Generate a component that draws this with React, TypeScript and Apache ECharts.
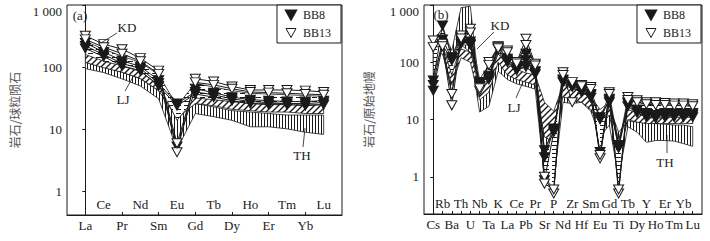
import React, { useEffect, useRef } from 'react';
import * as echarts from 'echarts';

// ---------- categories ----------
const reeElements = ['La', 'Ce', 'Pr', 'Nd', 'Sm', 'Eu', 'Gd', 'Tb', 'Dy', 'Ho', 'Er', 'Tm', 'Yb', 'Lu'];
const spiderElements = ['Cs', 'Rb', 'Ba', 'Th', 'U', 'Nb', 'Ta', 'K', 'La', 'Ce', 'Pb', 'Pr', 'Sr', 'P', 'Nd', 'Zr', 'Hf', 'Sm', 'Eu', 'Gd', 'Ti', 'Tb', 'Dy', 'Y', 'Ho', 'Er', 'Tm', 'Yb', 'Lu'];

// ---------- y tick labels ----------
const yTickValues = [1, 10, 100, 1000];
const yTickLabels = ['1', '10', '100', '1 000'];

// ---------- (a) chondrite-normalized REE ----------
const reeBB8_1 = [220, 160, 115, 95, 55, 26, 40, 36, 31, 28, 27, 26, 26, 27];
const reeBB8_2 = [245, 175, 128, 102, 62, 5.3, 45, 39, 33, 30, 29, 28, 28, 29];
const reeBB8_3 = [200, 148, 105, 88, 50, 24, 37, 33, 29, 26, 25, 25, 24, 25];
const reeBB13_1 = [320, 235, 195, 140, 88, 4.3, 65, 59, 49, 43, 43, 43, 42, 40];
const reeBB13_2 = [280, 210, 165, 125, 78, 6, 57, 52, 45, 40, 39, 38, 37, 36];

const reeTHLow = [95, 82, 65, 50, 31, 4.8, 18, 16, 14, 11, 11, 10.2, 9, 8.3];
const reeTHUp = [120, 100, 83, 65, 42, 17, 26, 23, 20, 19, 18, 17, 17, 17];
const reeLJLow = [119, 98, 83, 66, 42, 15, 26, 24, 21, 20, 19, 19, 18, 18];
const reeLJUp = [163, 130, 112, 88, 54, 28, 33, 31, 28, 27, 27, 27, 27, 27];
const reeKDLow = [160, 125, 105, 85, 52, 14, 32, 30, 28, 26, 26, 26, 25, 25];
const reeKDUp = [260, 195, 150, 120, 75, 24, 55, 48, 42, 38, 37, 36, 35, 34];

// ---------- (b) primitive-mantle-normalized spider ----------
const spBB8_1 = [48, 439, 123, 275, 210, 42, 55, 184, 108, 77, 141, 67, 2.9, 7, 48, 40, 32, 26.5, 11, 21.7, 3.6, 19, 14.5, 12, 11, 12, 12, 12, 12];
const spBB8_2 = [32, 200, 108, 210, 230, 38, 50, 170, 100, 72, 83, 62, 0.87, 6, 45, 37, 30, 24, 2.7, 20, 3.2, 17, 13, 11, 10.5, 11, 11, 11, 11];
const spBB8_3 = [40, 250, 115, 240, 200, 45, 58, 190, 115, 82, 110, 70, 2.2, 6.5, 50, 38, 34, 28, 10, 23, 3.3, 20, 15, 13, 12, 13, 13, 13, 13];
const spBB13_1 = [240, 210, 28, 294, 384, 32, 101, 184, 161, 101, 257, 94, 1.0, 0.51, 67, 45, 40, 37, 2.1, 30, 0.51, 24.8, 21.7, 20, 20, 19.4, 19, 19, 18.5];
const spBB13_2 = [184, 190, 17.7, 260, 330, 35, 90, 175, 150, 95, 200, 88, 0.76, 0.6, 60, 20, 38, 34, 2.4, 28, 0.6, 22, 20, 18.5, 18, 18, 17.5, 17.5, 17];

const spTHLow = [100, 150, 30, 200, 150, 13.5, 17, 70, 50, 42, 38, 34, 1.0, 0.8, 20, 19, 20, 14, 5, 8, 1, 7.5, 6, 4, 4.3, 4.3, 4.2, 3.8, 3.4];
const spTHUp = [250, 380, 160, 900, 950, 30, 60, 160, 80, 70, 62, 55, 5, 4, 45, 38, 36, 25, 12, 17, 6, 9.5, 9, 8.8, 8.5, 8.3, 8, 8, 7.5];
const spLJLow = [150, 140, 40, 120, 100, 22, 30, 100, 60, 50, 45, 40, 5, 4, 25, 22, 20, 15, 7.5, 12, 2.2, 10, 9, 8.5, 8.5, 8.5, 8.5, 8.5, 8.5];
const spLJUp = [200, 190, 80, 170, 150, 40, 55, 140, 90, 75, 65, 60, 20, 14, 40, 35, 32, 25, 15, 20, 4.5, 15, 13, 12, 12, 12, 12, 12, 12];
const spKDLow = [60, 200, 60, 200, 200, 30, 50, 150, 100, 75, 85, 60, 1, 0.6, 45, 35, 30, 25, 2.5, 20, 0.6, 18, 14, 12, 12, 12, 12, 12, 12];
const spKDUp = [220, 400, 130, 300, 350, 50, 90, 190, 150, 100, 200, 90, 3, 6, 65, 45, 40, 35, 10, 28, 3.5, 24, 20, 19, 19, 19, 18, 18, 18];

const SERIF = '"Liberation Serif", "DejaVu Serif", serif';
const CJK = '"Noto Sans CJK SC", sans-serif';
const TRI = 'path://M0,0L10,0L5,9Z';
const INK = '#1a1a1a';

function makePattern(kind: string) {
  const c = document.createElement('canvas');
  let w = 3, h = 3;
  if (kind === 'diag') { w = 6; h = 6; }
  if (kind === 'dash') { w = 8; h = 4; }
  c.width = w; c.height = h;
  const ctx = c.getContext('2d')!;
  ctx.fillStyle = '#fff';
  ctx.fillRect(0, 0, w, h);
  ctx.fillStyle = INK;
  ctx.strokeStyle = INK;
  if (kind === 'vert') {
    ctx.fillRect(0, 0, 1, h);
  } else if (kind === 'diag') {
    ctx.lineWidth = 1.4;
    ctx.beginPath();
    ctx.moveTo(0, h); ctx.lineTo(w, 0);
    ctx.moveTo(-1, 1); ctx.lineTo(1, -1);
    ctx.moveTo(w - 1, h + 1); ctx.lineTo(w + 1, h - 1);
    ctx.stroke();
  } else {
    ctx.fillRect(0, 1, 5, 1);
  }
  return { image: c, repeat: 'repeat', imageWidth: w, imageHeight: h };
}

function fieldSeries(name: string, xi: number, yi: number, lower: number[], upper: number[], pattern: any) {
  return {
    type: 'custom',
    name,
    xAxisIndex: xi,
    yAxisIndex: yi,
    silent: true,
    clip: true,
    data: lower.map((l, i) => [i, l, upper[i]]),
    encode: { x: 0, y: [1, 2] },
    renderItem: (params: any, api: any) => {
      if (params.dataIndex !== 0) return null;
      const pts: number[][] = [];
      for (let i = 0; i < upper.length; i++) pts.push(api.coord([i, upper[i]]));
      for (let i = lower.length - 1; i >= 0; i--) pts.push(api.coord([i, lower[i]]));
      return {
        type: 'polygon',
        shape: { points: pts },
        style: { fill: pattern, stroke: INK, lineWidth: 0.8 },
      };
    },
  };
}

function sampleSeries(name: string, xi: number, yi: number, values: number[]) {
  const open = name === 'BB13';
  return {
    type: 'line',
    name,
    xAxisIndex: xi,
    yAxisIndex: yi,
    data: values.map((v, i) => [i, v]),
    symbol: TRI,
    symbolSize: open ? [10, 9] : [10, 9],
    showAllSymbol: true,
    lineStyle: { color: INK, width: 1 },
    itemStyle: open ? { color: '#fff', borderColor: INK, borderWidth: 1 } : { color: INK, borderColor: INK, borderWidth: 1 },
    z: 3,
  };
}

function yLabel(v: number) {
  const e = Math.log10(v);
  const r = Math.round(e);
  if (Math.abs(e - r) > 1e-6) return '';
  const idx = yTickValues.indexOf(Math.pow(10, r));
  if (idx < 0) return '';
  return idx === yTickValues.length - 1 ? '{top|' + yTickLabels[idx] + '}' : yTickLabels[idx];
}

function xAxes(grid: number, names: string[], tickValues: number[]) {
  const evens = names.map((_, i) => i).filter((i) => i % 2 === 0);
  const odds = names.map((_, i) => i).filter((i) => i % 2 === 1);
  const fmt = (v: number) => names[Math.round(v)] ?? '';
  return [
    {
      type: 'value', gridIndex: grid, position: 'bottom', min: -1, max: names.length,
      splitLine: { show: false },
      axisLine: { show: true, lineStyle: { color: INK, width: 1 } },
      axisTick: { show: true, inside: true, length: 3, customValues: tickValues, lineStyle: { color: INK } },
      axisLabel: { customValues: evens, formatter: fmt, margin: 4, color: INK, fontSize: 13, fontFamily: SERIF },
    },
    {
      type: 'value', gridIndex: grid, position: 'bottom', min: -1, max: names.length,
      splitLine: { show: false },
      axisLine: { show: false },
      axisTick: { show: false },
      axisLabel: { inside: true, customValues: odds, formatter: fmt, margin: 4, color: INK, fontSize: 13, fontFamily: SERIF },
    },
  ];
}

function yAxis(grid: number, min: number, name: string, gap: number) {
  return {
    type: 'log', logBase: 10, gridIndex: grid, min, max: 1000,
    name, nameLocation: 'middle', nameGap: gap, nameRotate: 90,
    nameTextStyle: { color: '#555', fontSize: 12, fontFamily: CJK },
    splitLine: { show: false },
    minorTick: { show: false },
    axisLine: { show: true, lineStyle: { color: INK, width: 1 } },
    axisTick: { show: true, inside: false, length: 3, lineStyle: { color: INK } },
    axisLabel: {
      formatter: yLabel, margin: 5, color: INK, fontSize: 13, fontFamily: SERIF,
      rich: { top: { padding: [13, 0, 0, 0], fontSize: 13, fontFamily: SERIF, color: INK } },
    },
  };
}

function legend(left: number) {
  return {
    left, top: 5, orient: 'vertical',
    data: [
      { name: 'BB8', icon: TRI, itemStyle: { color: INK, borderColor: INK } },
      { name: 'BB13', icon: TRI, itemStyle: { color: '#fff', borderColor: INK, borderWidth: 1 } },
    ],
    itemWidth: 14, itemHeight: 9, itemGap: 6,
    padding: [4, 10, 4, 8],
    borderColor: INK, borderWidth: 1, backgroundColor: '#fff',
    selectedMode: false,
    textStyle: { color: INK, fontSize: 12, fontFamily: SERIF },
  };
}

function txt(x: number, y: number, t: string) {
  return { type: 'text', x, y, z: 100, style: { text: t, fill: INK, font: '13px ' + SERIF, textAlign: 'center', textVerticalAlign: 'middle' } };
}
function ln(x1: number, y1: number, x2: number, y2: number) {
  return { type: 'line', z: 100, shape: { x1, y1, x2, y2 }, style: { stroke: INK, lineWidth: 0.8 } };
}

export default function App() {
  const ref = useRef<HTMLDivElement>(null);
  useEffect(() => {
    if (!ref.current) return;
    const chart = echarts.init(ref.current, null, { renderer: 'svg' });
    const vert = makePattern('vert');
    const diag = makePattern('diag');
    const dash = makePattern('dash');
    const option: any = {
      animation: false,
      backgroundColor: '#fff',
      grid: [
        { left: 67, top: 5, right: 368, bottom: 26, show: true, borderColor: INK, borderWidth: 1, backgroundColor: 'transparent' },
        { left: 424, top: 5, right: 8, bottom: 27, show: true, borderColor: INK, borderWidth: 1, backgroundColor: 'transparent' },
      ],
      xAxis: [
        ...xAxes(0, reeElements, reeElements.map((_, i) => i).filter((i) => i % 2 === 0)),
        ...xAxes(1, spiderElements, spiderElements.map((_, i) => i)),
      ],
      yAxis: [yAxis(0, 0.42, '岩石/球粒陨石', 47), yAxis(1, 0.224, '岩石/原始地幔', 50)],
      legend: [legend(277), legend(637)],
      series: [
        fieldSeries('TH', 0, 0, reeTHLow, reeTHUp, vert),
        fieldSeries('LJ', 0, 0, reeLJLow, reeLJUp, diag),
        fieldSeries('KD', 0, 0, reeKDLow, reeKDUp, dash),
        sampleSeries('BB8', 0, 0, reeBB8_1),
        sampleSeries('BB8', 0, 0, reeBB8_2),
        sampleSeries('BB8', 0, 0, reeBB8_3),
        sampleSeries('BB13', 0, 0, reeBB13_1),
        sampleSeries('BB13', 0, 0, reeBB13_2),
        fieldSeries('TH', 2, 1, spTHLow, spTHUp, vert),
        fieldSeries('LJ', 2, 1, spLJLow, spLJUp, diag),
        fieldSeries('KD', 2, 1, spKDLow, spKDUp, dash),
        sampleSeries('BB8', 2, 1, spBB8_1),
        sampleSeries('BB8', 2, 1, spBB8_2),
        sampleSeries('BB8', 2, 1, spBB8_3),
        sampleSeries('BB13', 2, 1, spBB13_1),
        sampleSeries('BB13', 2, 1, spBB13_2),
      ],
      graphic: [
        txt(80, 15, '(a)'),
        txt(441, 14, '(b)'),
        txt(127, 27, 'KD'), ln(117, 33, 101, 43),
        txt(123, 99, 'LJ'), ln(125, 91, 133, 77),
        txt(302, 155, 'TH'), ln(303, 147, 305, 128),
        txt(500, 25, 'KD'), ln(494, 32, 477, 49),
        txt(514, 107, 'LJ'), ln(516, 98, 523, 82),
        txt(665, 162, 'TH'), ln(667, 153, 667, 135),
      ],
    };
    chart.setOption(option);
    return () => chart.dispose();
  }, []);
  return <div ref={ref} style={{ position: 'absolute', left: 0, top: 0, width: 710, height: 241, background: '#fff' }} />;
}
